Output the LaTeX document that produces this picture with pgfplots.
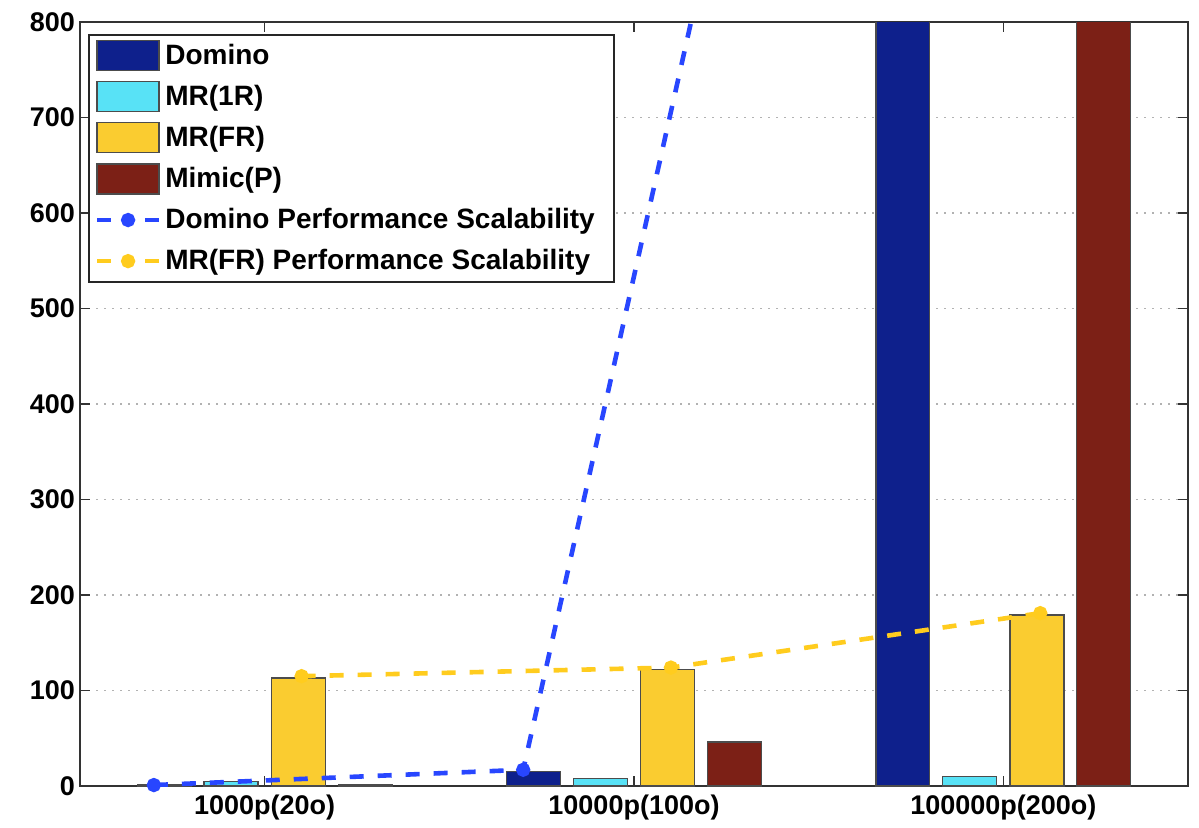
\documentclass[border=0pt]{standalone}
\usepackage{fontspec}
\setmainfont{Liberation Sans}
\usepackage{pgfplots}
\pgfplotsset{compat=1.18}
\definecolor{cDom}{RGB}{14,32,140}
\definecolor{cMR1}{RGB}{88,226,246}
\definecolor{cMRF}{RGB}{250,204,48}
\definecolor{cMim}{RGB}{124,32,22}
\definecolor{lDom}{RGB}{40,70,255}
\definecolor{lMRF}{RGB}{255,204,30}
\pgfplotsset{
  barleg/.style={legend image code/.code={\draw[##1] (0pt,-7.5pt) rectangle (31pt,7.5pt);}},
  lineleg/.style={legend image code/.code={%
    \draw[##1, solid, mark=none] (0pt,0pt) -- (7pt,0pt);
    \draw[##1, solid, mark=none] (24pt,0pt) -- (31pt,0pt);
    \draw[##1, only marks] plot coordinates {(15.5pt,0pt)};}},
}
\begin{document}
\begin{tikzpicture}
\useasboundingbox (-40pt,-20.5pt) rectangle (559.5pt,393pt);
\begin{axis}[
  at={(0pt,0pt)}, anchor=south west,
  scale only axis, width=554pt, height=382pt,
  xmin=-0.5, xmax=2.5, ymin=0, ymax=800,
  xtick={0,1,2}, xticklabels={1000p(20o),10000p(100o),100000p(200o)},
  ytick={0,100,...,800},
  ymajorgrids, grid style={gray!60, dash pattern=on 1.2pt off 2.8pt, line width=0.6pt},
  tick align=inside, major tick length=5pt,
  axis line style={black!80, line width=1pt},
  tick style={black!80, line width=0.8pt},
  ticklabel style={font=\bfseries\fontsize{13.5}{16}\selectfont},
  yticklabel style={xshift=1pt},
  xticklabel style={yshift=-1pt},
  /pgf/number format/assume math mode=true,
  legend cell align=left,
  legend style={at={(0.0072,0.984)}, anchor=north west, draw=black!85, line width=0.8pt,
    font=\bfseries\fontsize{14}{16}\selectfont, row sep=4.9pt, inner xsep=3pt, inner ysep=2.5pt},
]
\addplot[ybar, bar width=0.146, bar shift=-0.272, fill=cDom, draw=black!70, line width=0.6pt, barleg]
  coordinates {(0,2) (1,15) (2,1000)};
\addlegendentry{Domino}
\addplot[ybar, bar width=0.146, bar shift=-0.091, fill=cMR1, draw=black!70, line width=0.6pt, barleg]
  coordinates {(0,5) (1,8) (2,10)};
\addlegendentry{MR(1R)}
\addplot[ybar, bar width=0.146, bar shift=0.091, fill=cMRF, draw=black!70, line width=0.6pt, barleg]
  coordinates {(0,113) (1,122) (2,179)};
\addlegendentry{MR(FR)}
\addplot[ybar, bar width=0.146, bar shift=0.272, fill=cMim, draw=black!70, line width=0.6pt, barleg]
  coordinates {(0,2) (1,46) (2,1000)};
\addlegendentry{Mimic(P)}
\addplot[lDom, line width=2.3pt, dash pattern=on 7pt off 7pt, mark=*, mark size=2.4pt, mark options={solid}, lineleg]
  coordinates {(-0.30,1) (0.70,17) (1.70,1740)};
\addlegendentry{Domino Performance Scalability\rule{4.5pt}{0pt}}
\addplot[lMRF, line width=2.3pt, dash pattern=on 7pt off 7pt, mark=*, mark size=2.4pt, mark options={solid}, lineleg]
  coordinates {(0.10,115) (1.10,124) (2.10,181)};
\addlegendentry{MR(FR) Performance Scalability}
\end{axis}
\end{tikzpicture}
\end{document}
